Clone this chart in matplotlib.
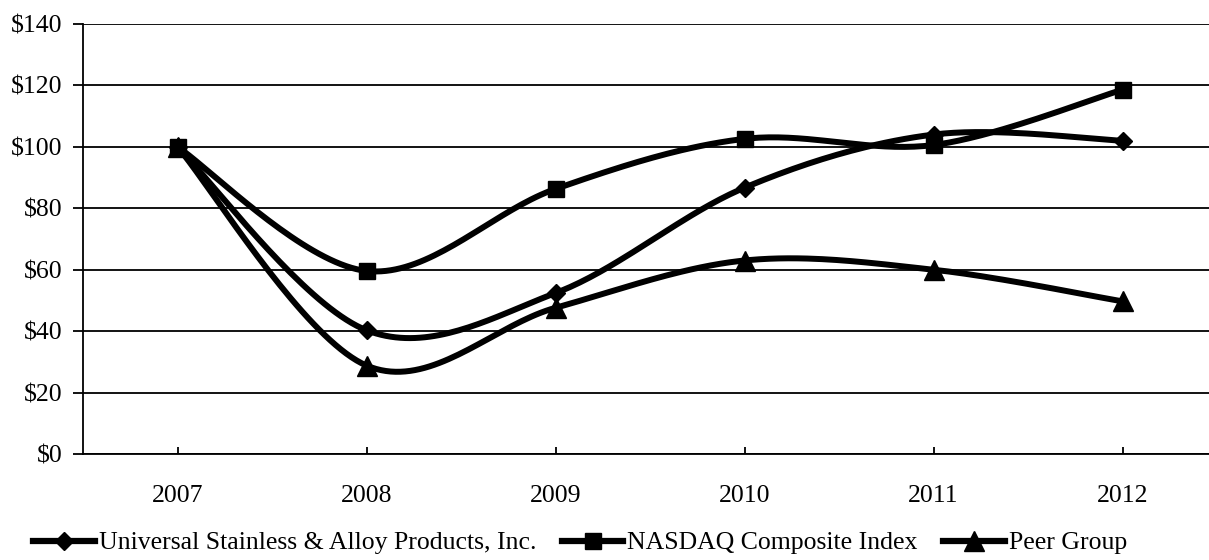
import numpy as np
import matplotlib
matplotlib.use('Agg')
import matplotlib.pyplot as plt
from matplotlib.ticker import FuncFormatter

years = ['2007', '2008', '2009', '2010', '2011', '2012']
universal = [100, 40.3, 52.4, 86.7, 104, 102]
nasdaq = [100, 59.6, 86.3, 102.6, 100.6, 118.6]
peer = [100, 28.8, 47.6, 63, 60, 49.7]

series_names = ['Universal Stainless & Alloy Products, Inc.',
                'NASDAQ Composite Index', 'Peer Group']


def smooth(xs, ys, steps=40):
    """Excel-style smoothed line (cubic Bezier, tension 1/6)"""
    p = np.column_stack([xs, ys]).astype(float)
    n = len(p)
    out = []
    for i in range(n - 1):
        p0 = p[i - 1] if i > 0 else p[i]
        p3 = p[i + 2] if i + 2 < n else p[i + 1]
        c1 = p[i] + (p[i + 1] - p0) / 6.0
        c2 = p[i + 1] - (p3 - p[i]) / 6.0
        t = np.linspace(0, 1, steps)[:, None]
        seg = ((1 - t) ** 3 * p[i] + 3 * (1 - t) ** 2 * t * c1
               + 3 * (1 - t) * t ** 2 * c2 + t ** 3 * p[i + 1])
        out.append(seg if i == 0 else seg[1:])
    seg = np.vstack(out)
    return seg[:, 0], seg[:, 1]


plt.rcParams['font.family'] = ['Liberation Serif', 'DejaVu Serif']
FS = 18.5

fig = plt.figure(figsize=(12.09, 5.6), dpi=100)
ax = fig.add_axes([83 / 1209, 1 - 454 / 560, (1217 - 83) / 1209, 430 / 560])

x = np.arange(len(years))
markers = ['D', 's', '^']
msizes = [9.5, 12, 14]
handles = []
for vals, mk, ms, name in zip([universal, nasdaq, peer], markers, msizes, series_names):
    sx, sy = smooth(x, vals)
    ax.plot(sx, sy, color='black', lw=4.3, solid_capstyle='round', zorder=3)
    ax.plot(x, vals, linestyle='none', marker=mk, ms=ms, color='black', zorder=4)
    h, = plt.plot([], [], color='black', lw=4.5, marker=mk, ms=ms, label=name)
    handles.append(h)

ax.set_xlim(-0.5, 5.5)
ax.set_ylim(0, 140)
ax.set_yticks(np.arange(0, 141, 20))
ax.yaxis.set_major_formatter(FuncFormatter(lambda v, p: f'${int(v)}'))
ax.set_xticks(x)
ax.set_xticklabels(years)

ax.grid(axis='y', color='black', lw=1.3)
ax.set_axisbelow(True)
for s in ['top', 'right']:
    ax.spines[s].set_visible(False)
for s in ['left', 'bottom']:
    ax.spines[s].set_linewidth(1.3)

ax.tick_params(axis='y', direction='out', length=7, width=1.3, pad=8, labelsize=FS)
ax.tick_params(axis='x', direction='in', length=5, width=1.3, pad=22, labelsize=FS)

fig.legend(handles=handles, loc='center left', bbox_to_anchor=(33 / 1209, 1 - 543 / 560),
           ncol=3, frameon=False, fontsize=FS, handlelength=2.4,
           handletextpad=0.15, columnspacing=1.0, borderpad=0, borderaxespad=0)

fig.savefig('out.png', dpi=100)
